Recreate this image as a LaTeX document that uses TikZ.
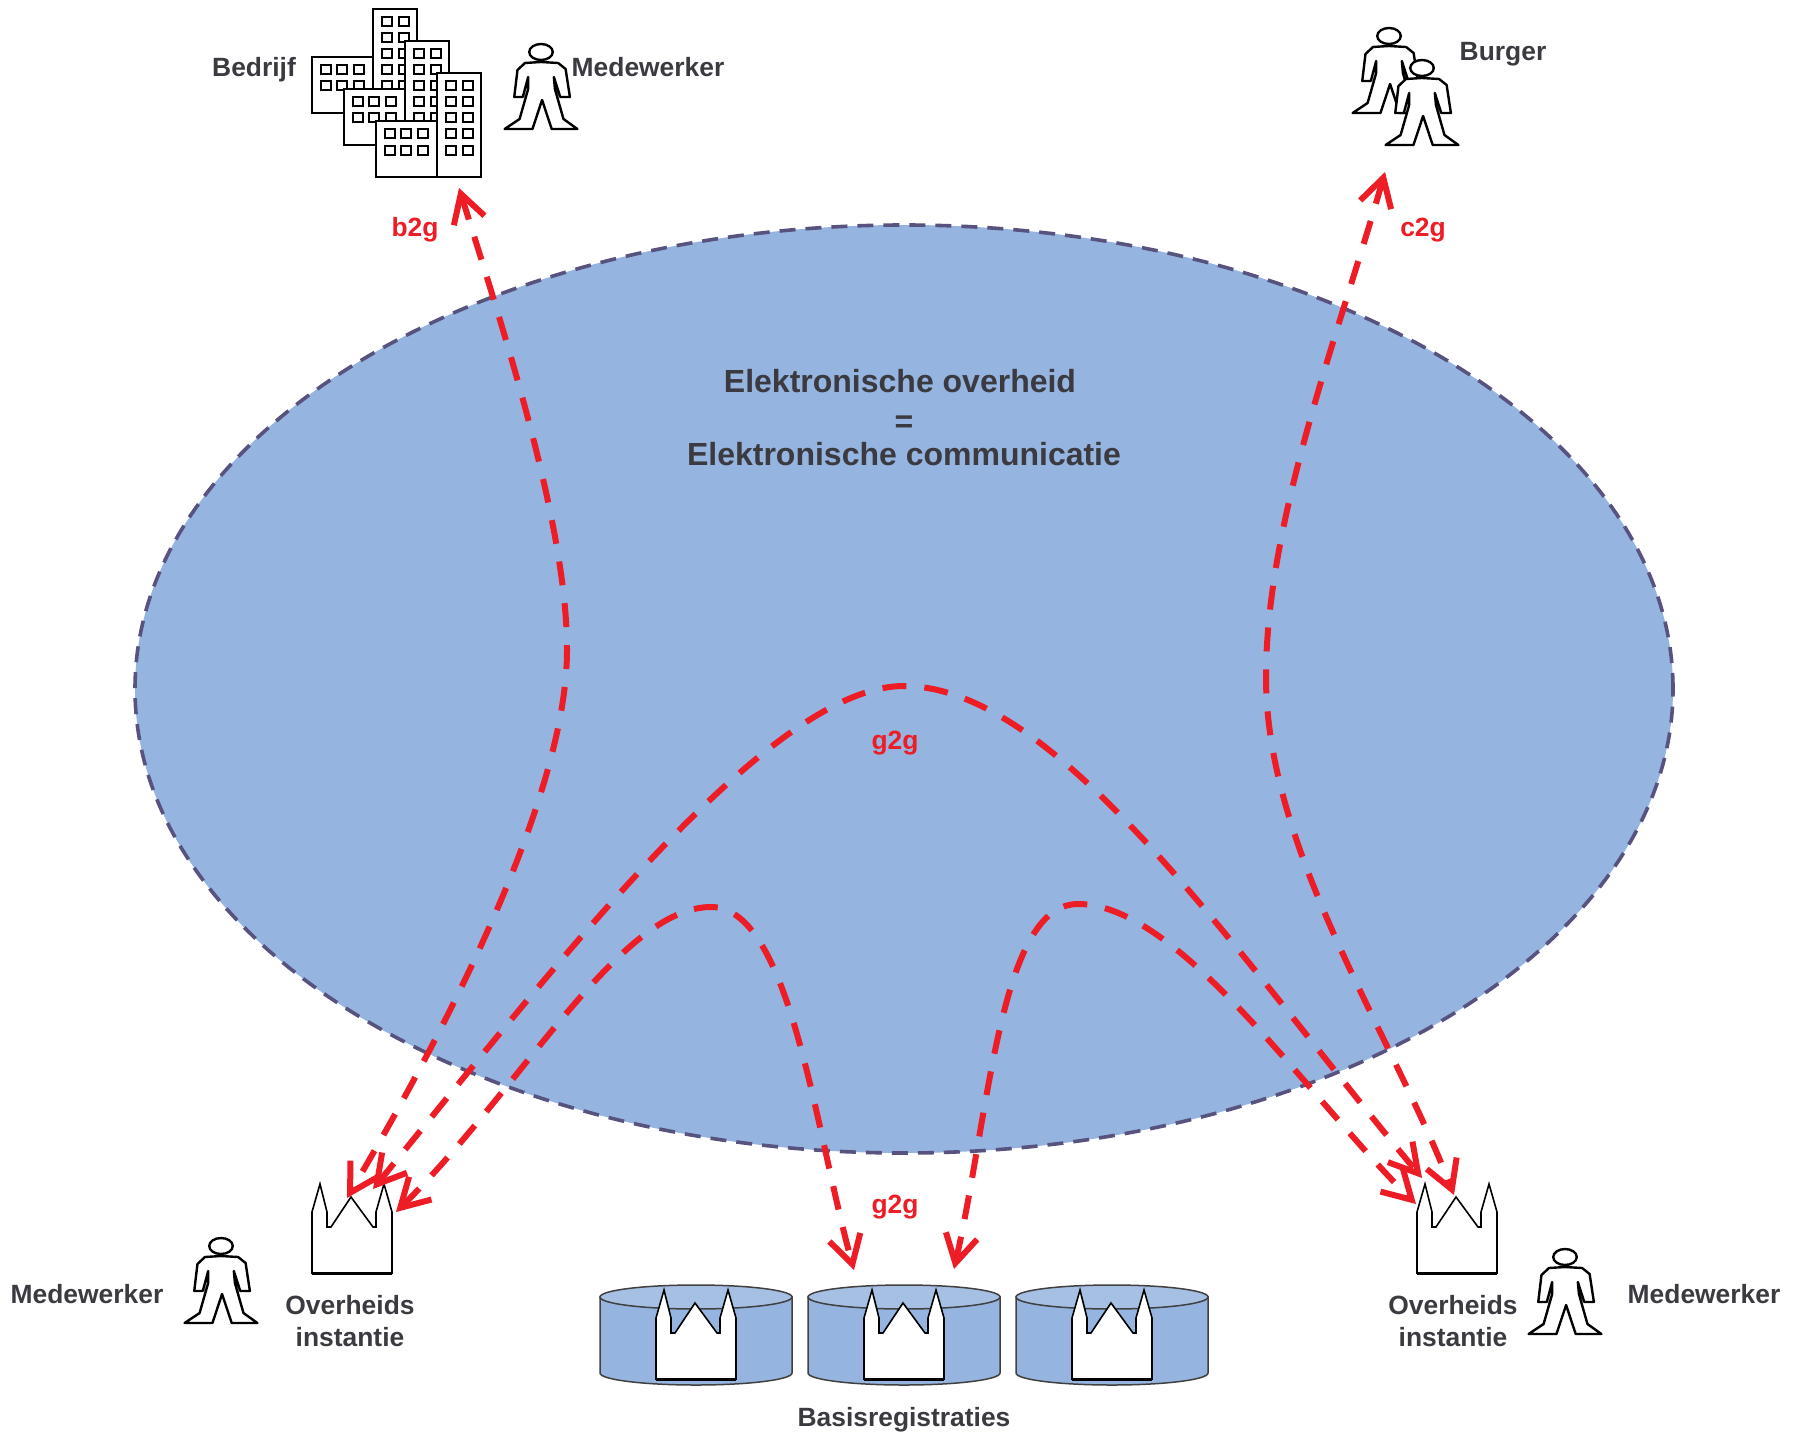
\documentclass[tikz,border=0pt]{standalone}
\usepackage{fontspec}
\setmainfont{Liberation Sans}
\usetikzlibrary{
    arrows.meta,
    shapes,
}
\definecolor{ovblue}{HTML}{95B4DF}
\definecolor{ovtop}{HTML}{A6C0E4}
\definecolor{ovedge}{HTML}{57527E}
\definecolor{ovred}{HTML}{EE1C25}
\definecolor{ovtext}{HTML}{3A3A40}

\tikzset{
    person/.pic={
        \begin{scope}[xscale=1.07]
        \draw [line width=1.2pt, line join=round, fill=white] (0,10) -- (16,11) -- (23,17) -- (27,45) -- (18,45) -- (12,25) -- (13,37) -- (21,67) -- (34,77)
            -- (10,77) -- (1,48) -- (-8,77) -- (-34,77) -- (-20,67) -- (-12,37) -- (-12,25) -- (-17,45) -- (-25,45) -- (-22,18) -- (-15,11) -- cycle;
        \draw [line width=1.2pt, fill=white] (0,0) ellipse [x radius=11, y radius=8];
        \end{scope}
    },
    church/.pic={
        \draw [line width=0.8pt, fill=white] (0,0) -- (0,-61) -- (8,-89) -- (15,-61) -- (15,-46) -- (19,-46) -- (39,-76) -- (61,-46) -- (64,-46) -- (64,-61)
            -- (72,-89) -- (80,-61) -- (80,0) -- cycle;
        \draw [line width=1.5pt] (0,0) -- (80,0);
    },
    tower/.pic={
        \draw [line width=1.2pt, fill=white] (0,0) rectangle (44,104);
        \foreach \wx in {14,31}
            \foreach \wy in {13,29,45,61,77}
                \draw [line width=1pt] (\wx-5,\wy-4.5) rectangle (\wx+5,\wy+4.5);
    },
    block/.pic={
        \draw [line width=1.2pt, fill=white] (0,0) rectangle (61,56);
        \foreach \wx in {14,30,47}
            \foreach \wy in {13,29}
                \draw [line width=1pt] (\wx-5,\wy-4.5) rectangle (\wx+5,\wy+4.5);
    },
    drum/.pic={
        \draw [line width=0.75pt, draw=black!75, fill=ovblue] (-96,0) -- (-96,76) arc [x radius=96, y radius=12, start angle=180, end angle=0] -- (96,0) -- cycle;
        \draw [line width=0.75pt, draw=black!75, fill=ovtop] (0,0) ellipse [x radius=96, y radius=12];
    },
}

\begin{document}
\begin{tikzpicture}[x=0.5pt,y=-0.5pt,>={Straight Barb[length=14pt,width=16pt]}]

    \tikzstyle{label}=[font=\fontsize{13.2}{16}\selectfont\bfseries, text=ovtext, inner sep=0pt, align=center]
    \tikzstyle{title}=[label, font=\fontsize{16}{18}\selectfont\bfseries]
    \tikzstyle{linklabel}=[label, text=ovred]
    \tikzstyle{link}=[<->, draw=ovred, line width=3pt, dash pattern=on 12pt off 9pt, line join=round]

    \useasboundingbox (0,0) rectangle (1798,1434);

    % Cloud
    \node at (904,689) [shape=ellipse, draw=ovedge, fill=ovblue, line width=1.8pt, dash pattern=on 8pt off 5pt, inner sep=0pt, minimum width=769pt, minimum height=464pt] (EO) {};
    \node at (900,381) [title] (T1) {Elektronische overheid};
    \node at (904,424) [title] (T2) {=};
    \node at (904,454) [title] (T3) {Elektronische communicatie};

    % Company
    \foreach \bx/\by in {312/57,344/89,376/121} {
        \pic at (\bx,\by) {block};
        \pgfmathtruncatemacro{\tx}{\bx+61}
        \pgfmathtruncatemacro{\ty}{\by-48}
        \pic at (\tx,\ty) {tower};
    }
    \node at (254,70) [label] (BD) {Bedrijf};
    \pic at (541,52) {person};
    \node at (648,67) [label] (MT) {Medewerker};

    % Citizens
    \pic at (1389,36) {person};
    \pic at (1422,68) {person};
    \node at (1503,54) [label] (BG) {Burger};

    % Government
    \pic at (312,1273) {church};
    \pic at (221,1246) {person};
    \node at (87,1294) [label] (ML) {Medewerker};
    \node at (350,1321) [label] (OL) {Overheids \\ instantie};

    \pic at (1417,1273) {church};
    \pic at (1565,1257) {person};
    \node at (1704,1294) [label] (MR) {Medewerker};
    \node at (1453,1321) [label] (OR) {Overheids \\ instantie};

    % Registers
    \foreach \rx in {696,904,1112} {
        \pic at (\rx,1297) {drum};
        \pic at (\rx-40,1379) {church};
    }
    \node at (904,1420) [label] (BR) {Basisregistraties};

    % Connector ends
    \coordinate (b2gA) at (459,188);
    \coordinate (b2gM) at (567,650);
    \coordinate (b2gB) at (347,1198);
    \coordinate (c2gA) at (1385,172);
    \coordinate (c2gM) at (1266,677);
    \coordinate (c2gB) at (1454,1195);
    \coordinate (g2gA) at (373,1189);
    \coordinate (g2gM) at (904,686);
    \coordinate (g2gB) at (1422,1178);
    \coordinate (regLA) at (396,1212);
    \coordinate (regLM) at (711,907);
    \coordinate (regLB) at (854,1270);
    \coordinate (regRA) at (954,1269);
    \coordinate (regRM) at (1078,904);
    \coordinate (regRB) at (1416,1204);

    \draw [link] (b2gA) .. controls (505,335) and (567,525) .. (b2gM) .. controls (567,800) and (440,1040) .. (b2gB);
    \draw [link] (c2gA) .. controls (1340,330) and (1266,520) .. (c2gM) .. controls (1266,850) and (1390,1030) .. (c2gB);
    \draw [link] (g2gA) .. controls (560,960) and (770,686) .. (g2gM) .. controls (1060,686) and (1240,960) .. (g2gB);
    \draw [link] (regLA) .. controls (520,1090) and (620,907) .. (regLM) .. controls (790,907) and (815,1130) .. (regLB);
    \draw [link] (regRA) .. controls (990,1110) and (1000,904) .. (regRM) .. controls (1180,904) and (1310,1100) .. (regRB);

    \node at (415,230) [linklabel] (LB) {b2g};
    \node at (1423,230) [linklabel] (LC) {c2g};
    \node at (895,743) [linklabel] (LG) {g2g};
    \node at (895,1207) [linklabel] (LR) {g2g};

\end{tikzpicture}
\end{document}
